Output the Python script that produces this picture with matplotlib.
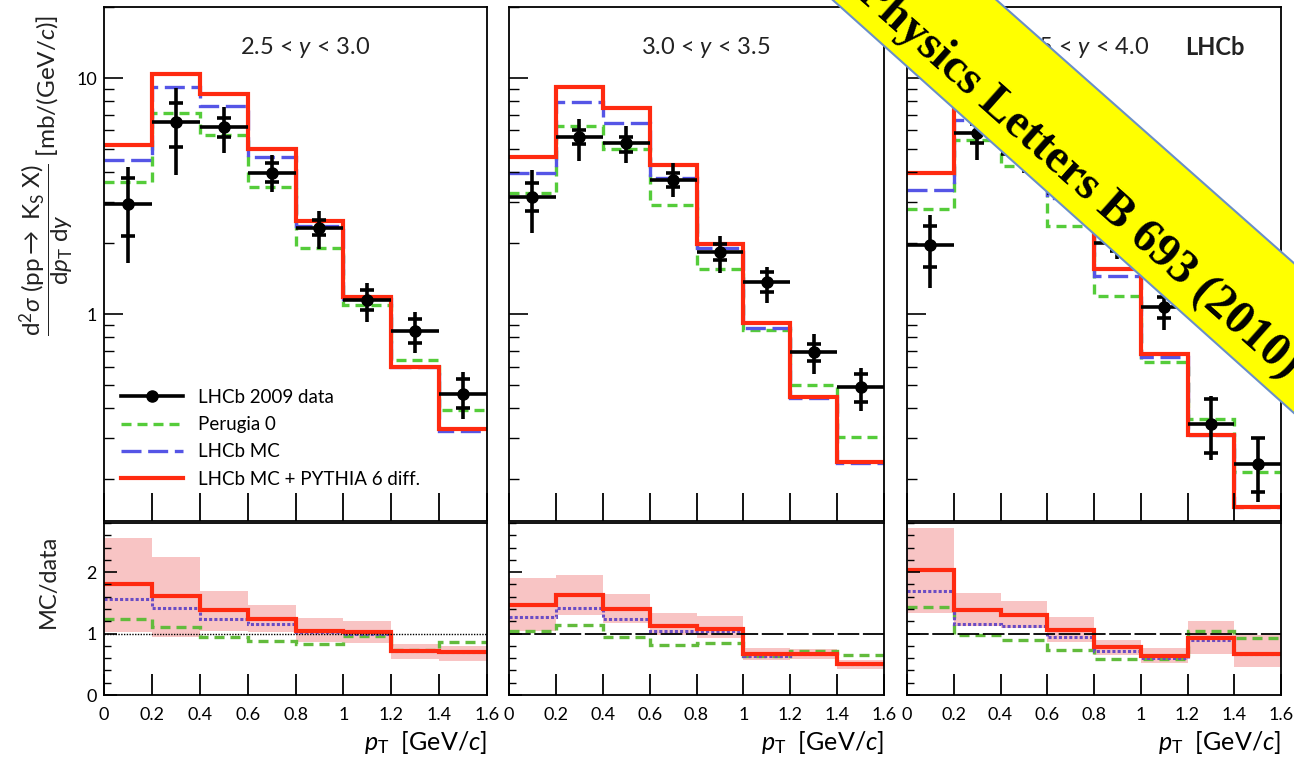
import numpy as np
import matplotlib
matplotlib.use('Agg')
import matplotlib.pyplot as plt
from matplotlib.lines import Line2D
from matplotlib.patches import Polygon
from matplotlib.ticker import LogLocator, NullFormatter, MultipleLocator

plt.rcParams['font.family'] = ['Lato', 'DejaVu Sans']
plt.rcParams['mathtext.fontset'] = 'custom'
plt.rcParams['mathtext.rm'] = 'Lato'
plt.rcParams['mathtext.it'] = 'Lato:italic'
plt.rcParams['mathtext.bf'] = 'Lato:bold'

# bins in pT [GeV/c]
edges = [0.0, 0.2, 0.4, 0.6, 0.8, 1.0, 1.2, 1.4, 1.6]
centers = [0.1, 0.3, 0.5, 0.7, 0.9, 1.1, 1.3, 1.5]
titles = ['2.5 < $y$ < 3.0', '3.0 < $y$ < 3.5', '3.5 < $y$ < 4.0']

# 2.5 < y < 3.0
data1 = [2.94, 6.53, 6.22, 3.98, 2.32, 1.146, 0.847, 0.461]
stat_lo1 = [2.14, 5.12, 5.64, 3.64, 2.16, 1.04, 0.756, 0.399]
stat_hi1 = [3.76, 7.81, 6.75, 4.35, 2.50, 1.26, 0.95, 0.530]
tot_lo1 = [1.64, 3.88, 4.82, 3.30, 1.88, 0.93, 0.686, 0.358]
tot_hi1 = [4.21, 9.04, 7.56, 4.72, 2.74, 1.35, 1.02, 0.569]
red1 = [5.2, 10.4, 8.6, 5.0, 2.49, 1.18, 0.60, 0.326]
blue1 = [4.49, 9.2, 7.6, 4.64, 2.36, 1.16, 0.60, 0.32]
green1 = [3.64, 7.08, 5.73, 3.46, 1.90, 1.09, 0.638, 0.393]

# 3.0 < y < 3.5
data2 = [3.14, 5.64, 5.29, 3.70, 1.84, 1.37, 0.692, 0.492]
stat_lo2 = [2.73, 5.25, 4.87, 3.46, 1.69, 1.24, 0.632, 0.425]
stat_hi2 = [3.60, 6.02, 5.64, 3.95, 1.99, 1.51, 0.751, 0.557]
tot_lo2 = [2.20, 4.46, 4.35, 3.12, 1.50, 1.11, 0.56, 0.389]
tot_hi2 = [4.07, 6.68, 6.26, 4.35, 2.14, 1.59, 0.828, 0.589]
red2 = [4.61, 9.13, 7.48, 4.28, 1.98, 0.919, 0.444, 0.237]
blue2 = [3.95, 7.94, 6.47, 3.79, 1.90, 0.87, 0.44, 0.235]
green2 = [3.25, 6.26, 5.0, 2.90, 1.56, 0.855, 0.50, 0.302]

# 3.5 < y < 4.0
data3 = [1.96, 5.83, 4.78, 3.25, 2.0, 1.07, 0.344, 0.233]
stat_lo3 = [1.59, 5.3, 4.4, 3.0, 1.85, 0.96, 0.257, 0.177]
stat_hi3 = [2.36, 6.4, 5.2, 3.5, 2.15, 1.18, 0.439, 0.298]
tot_lo3 = [1.285, 4.49, 3.95, 2.8, 1.72, 0.855, 0.24, 0.160]
tot_hi3 = [2.63, 7.3, 5.7, 3.75, 2.3, 1.28, 0.449, 0.302]
red3 = [3.95, 8.1, 6.2, 3.44, 1.56, 0.68, 0.309, 0.153]
blue3 = [3.35, 6.64, 5.4, 3.09, 1.45, 0.656, 0.307, 0.153]
green3 = [2.80, 5.46, 4.25, 2.37, 1.195, 0.628, 0.358, 0.215]

# MC/data ratios
r_red1 = [1.80, 1.61, 1.39, 1.24, 1.05, 1.02, 0.72, 0.70]
r_blue1 = [1.57, 1.42, 1.24, 1.16, 1.03, 0.99, 0.72, 0.70]
r_green1 = [1.24, 1.11, 0.94, 0.88, 0.83, 0.96, 0.74, 0.86]
band_lo1 = [1.02, 0.95, 1.04, 1.02, 0.86, 0.85, 0.58, 0.56]
band_hi1 = [2.56, 2.25, 1.70, 1.47, 1.26, 1.21, 0.83, 0.80]

r_red2 = [1.47, 1.63, 1.40, 1.13, 1.08, 0.67, 0.67, 0.50]
r_blue2 = [1.27, 1.41, 1.24, 1.04, 1.04, 0.64, 0.66, 0.50]
r_green2 = [1.04, 1.14, 0.94, 0.81, 0.84, 0.64, 0.72, 0.65]
band_lo2 = [1.04, 1.31, 1.17, 0.97, 0.93, 0.57, 0.58, 0.42]
band_hi2 = [1.90, 1.95, 1.64, 1.33, 1.28, 0.77, 0.75, 0.57]

r_red3 = [2.04, 1.39, 1.30, 1.06, 0.78, 0.64, 0.93, 0.66]
r_blue3 = [1.70, 1.16, 1.13, 0.95, 0.72, 0.61, 0.89, 0.66]
r_green3 = [1.43, 0.97, 0.89, 0.73, 0.59, 0.58, 1.05, 0.93]
band_lo3 = [1.34, 1.12, 1.09, 0.86, 0.65, 0.52, 0.66, 0.45]
band_hi3 = [2.72, 1.66, 1.53, 1.27, 0.90, 0.77, 1.20, 0.98]

RED = '#ff2a10'
BLUE = '#5555e6'
GREEN = '#55cc3a'
PURPLE = '#6a4cc4'
GREEN_R = '#62bb3c'
PINK = '#f8c4c4'

W, H = 1294, 774
fig = plt.figure(figsize=(W / 100, H / 100), dpi=100)


def px_axes(x0, x1, y0, y1):
    # pixel box (from top-left) -> axes
    return fig.add_axes([x0 / W, 1 - y1 / H, (x1 - x0) / W, (y1 - y0) / H])


xs = [(104, 487), (509, 884), (907, 1281)]
uppers = [px_axes(a, b, 7, 521) for a, b in xs]
lowers = [px_axes(a, b, 523, 695) for a, b in xs]

panels = [
    (data1, stat_lo1, stat_hi1, tot_lo1, tot_hi1, red1, blue1, green1,
     r_red1, r_blue1, r_green1, band_lo1, band_hi1),
    (data2, stat_lo2, stat_hi2, tot_lo2, tot_hi2, red2, blue2, green2,
     r_red2, r_blue2, r_green2, band_lo2, band_hi2),
    (data3, stat_lo3, stat_hi3, tot_lo3, tot_hi3, red3, blue3, green3,
     r_red3, r_blue3, r_green3, band_lo3, band_hi3),
]
title_x = [0.525, 0.525, 0.473]

for i, (ax, axr, p) in enumerate(zip(uppers, lowers, panels)):
    (d, slo, shi, tlo, thi, rd, bl, gr, rr, rb, rg, blo, bhi) = [np.array(v) for v in p]

    # top: histograms + data
    ax.stairs(gr, edges, baseline=None, color=GREEN, lw=2.4, ls=(0, (3.0, 1.8)))
    ax.stairs(bl, edges, baseline=None, color=BLUE, lw=2.4, ls=(0, (6.0, 2.0)))
    ax.stairs(rd, edges, baseline=None, color=RED, lw=3.0)
    ax.errorbar(centers, d, xerr=0.1, yerr=[d - tlo, thi - d], fmt='o', color='k',
                ms=8, elinewidth=2.6, capsize=0, zorder=5)
    ax.errorbar(centers, d, yerr=[d - slo, shi - d], fmt='none', ecolor='k',
                elinewidth=0, capsize=5, capthick=2.6, zorder=5)

    ax.set_xlim(0, 1.6)
    ax.set_yscale('log')
    ax.set_ylim(0.133, 20)
    ax.yaxis.set_major_locator(LogLocator(base=10))
    ax.yaxis.set_minor_locator(LogLocator(base=10, subs=np.arange(2, 10)))
    ax.yaxis.set_minor_formatter(NullFormatter())
    ax.set_yticks([1, 10], ['1', '10'])
    ax.set_xticks(edges)
    ax.tick_params(axis='both', which='both', direction='in', top=False, right=False)
    ax.tick_params(axis='x', length=20, width=1.3, labelbottom=False)
    ax.tick_params(axis='y', which='major', length=14, width=1.2, labelsize=13, pad=5)
    ax.tick_params(axis='y', which='minor', length=7, width=1.0)
    if i > 0:
        ax.tick_params(axis='y', labelleft=False)
    ax.text(title_x[i], 0.922, titles[i], transform=ax.transAxes, ha='center',
            va='center', fontsize=17, color='#222222')
    for s in ax.spines.values():
        s.set_linewidth(1.3)

    # bottom: ratios
    axr.stairs(bhi, edges, baseline=blo, fill=True, color=PINK, lw=0)
    if i == 0:
        axr.axhline(1, color='k', lw=1.0, ls=(0, (1, 1)))
    else:
        axr.axhline(1, color='k', lw=1.3, ls=(0, (12, 2)))
    axr.stairs(rg, edges, baseline=None, color=GREEN_R, lw=2.4, ls=(0, (3.0, 1.8)))
    axr.stairs(rb, edges, baseline=None, color=PURPLE, lw=2.2, ls=(0, (1.0, 0.7)))
    axr.stairs(rr, edges, baseline=None, color=RED, lw=3.0)

    axr.set_xlim(0, 1.6)
    axr.set_ylim(0, 2.8)
    axr.set_xticks(edges, ['0', '0.2', '0.4', '0.6', '0.8', '1', '1.2', '1.4', '1.6'])
    axr.set_yticks([0, 1, 2], ['0', '1', '2'])
    axr.yaxis.set_minor_locator(MultipleLocator(0.2))
    axr.tick_params(axis='both', which='both', direction='in', top=False, right=False)
    axr.tick_params(axis='x', length=15, width=1.3, labelsize=13, pad=9)
    axr.tick_params(axis='y', which='major', length=9, width=1.2, labelsize=13, pad=5)
    axr.tick_params(axis='y', which='minor', length=5, width=1.0)
    if i > 0:
        axr.tick_params(axis='y', labelleft=False)
    axr.set_xlabel(r'$p_{\mathrm{T}}$  [GeV/$c$]', loc='right', fontsize=18, labelpad=4)
    for s in axr.spines.values():
        s.set_linewidth(1.3)

uppers[2].text(0.824, 0.922, 'LHCb', transform=uppers[2].transAxes, ha='center',
               va='center', fontsize=17, fontweight='bold', color='#222222')

handles = [
    Line2D([], [], color='k', marker='o', ms=8, lw=2.6),
    Line2D([], [], color=GREEN, lw=2.4, ls=(0, (3.0, 1.8))),
    Line2D([], [], color=BLUE, lw=2.4, ls=(0, (6.0, 2.0))),
    Line2D([], [], color=RED, lw=3.0),
]
labels = ['LHCb 2009 data', 'Perugia 0', 'LHCb MC', 'LHCb MC + PYTHIA 6 diff.']
uppers[0].legend(handles, labels, loc='upper left', bbox_to_anchor=(0.0, 0.29),
                 frameon=False, fontsize=13.5, handlelength=3.3, labelspacing=0.55,
                 handletextpad=0.8)

fig.text(47 / W, 1 - 176 / H,
         r'$\dfrac{\mathrm{d}^{2}\sigma\ (\mathrm{pp}\rightarrow\ \mathrm{K_{S}\ X})}'
         r'{\mathrm{d}p_{\mathrm{T}}\ \mathrm{d}y}$ [mb/(GeV/$c$)]',
         rotation=90, ha='center', va='center', fontsize=17.5, color='#222222')
fig.text(48 / W, 1 - 581 / H, 'MC/data', rotation=90, ha='center', va='center',
         fontsize=17, color='#222222')

# journal banner across the top-right corner
def to_fig(pts):
    return [(x / W, 1 - y / H) for x, y in pts]


band = Polygon(to_fig([(940, -50), (1400, 357), (1400, 508), (777, -50)]),
               closed=True, transform=fig.transFigure, facecolor='#ffff00',
               edgecolor='#6a8fc8', lw=1.5, zorder=10, clip_on=False)
fig.patches.append(band)
fig.text(1078 / W, 1 - 178 / H, 'Physics Letters B 693 (2010)', rotation=-41.7,
         rotation_mode='anchor', ha='center', va='center', fontsize=34.5,
         fontweight='bold', family='Liberation Serif', color='k', zorder=11)

fig.savefig('out.png', dpi=100)
